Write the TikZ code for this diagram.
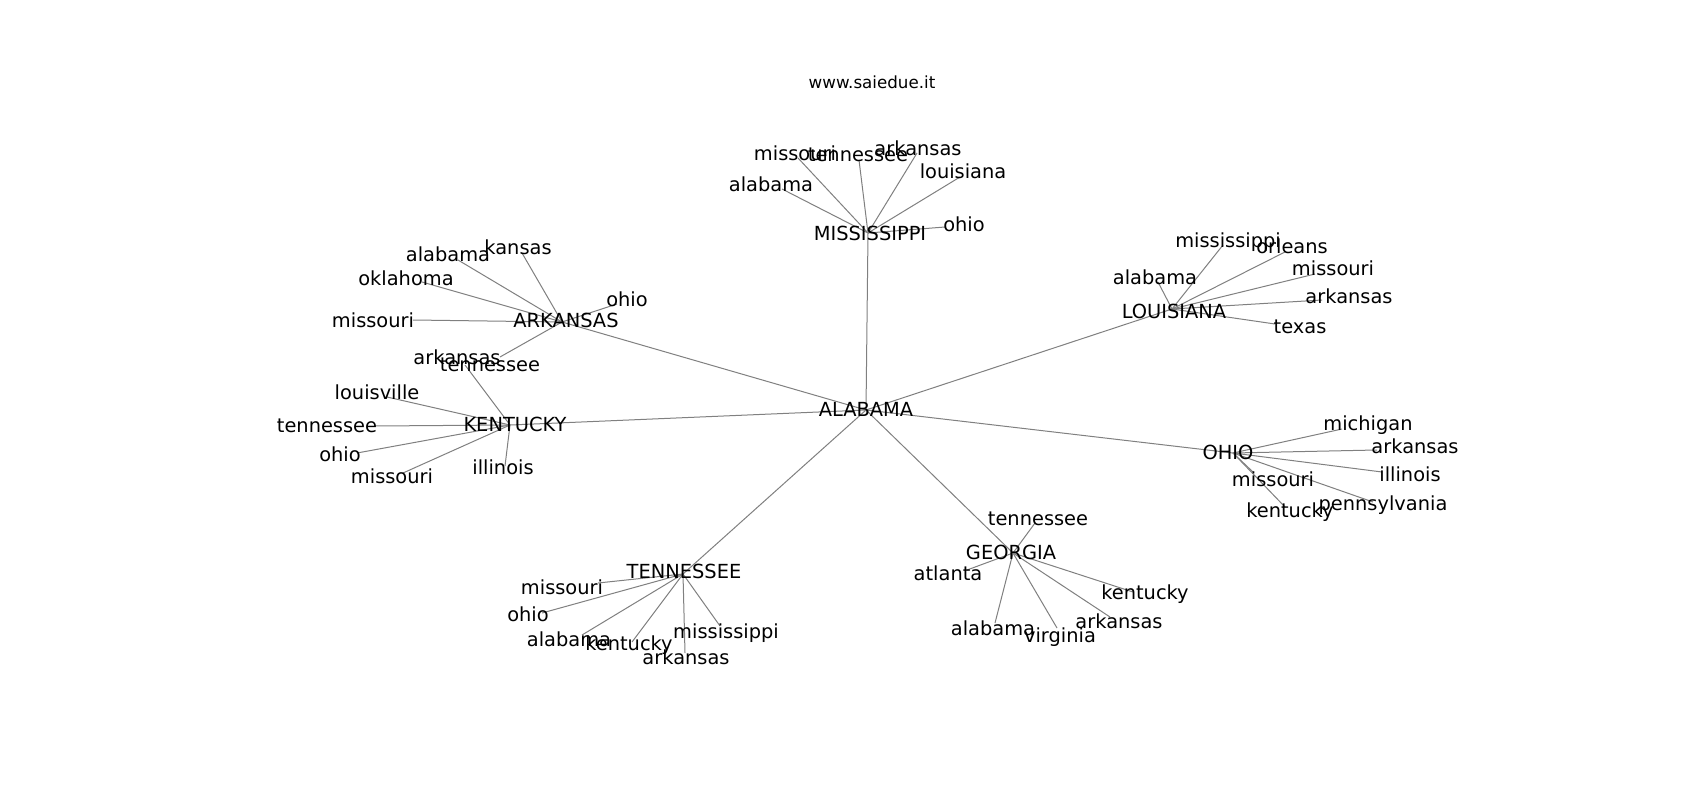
\documentclass[tikz,border=0pt]{standalone}
\usepackage{fontspec}
\setmainfont{DejaVu Sans}
\definecolor{edgegray}{RGB}{128,128,128}
\tikzset{
  edge/.style={draw=edgegray, line width=1pt},
  lab/.style={inner sep=0pt, outer sep=0pt, text height=14.3pt, text depth=0pt, anchor=center, font=\fontsize{19.4}{23}\selectfont},
  ttl/.style={inner sep=0pt, outer sep=0pt, text height=12.2pt, text depth=0pt, anchor=center, font=\fontsize{16.7}{20}\selectfont}
}
\begin{document}
\begin{tikzpicture}[x=1pt,y=-1pt]
\useasboundingbox (0,0) rectangle (1700,800);
\fill[white] (0,0) rectangle (1700,800);
\node[ttl] (title) at (872,82) {www.saiedue.it};
% hub positions
\coordinate (AL) at (866,410);
\coordinate (MS) at (868,233);
\coordinate (AR) at (562,322);
\coordinate (KY) at (510,425);
\coordinate (LA) at (1172,309);
\coordinate (OH) at (1233,453);
\coordinate (GA) at (1013,553);
\coordinate (TN) at (683,574);
% leaf positions
\coordinate (ms-al) at (782,189);
\coordinate (ms-mo) at (798,158);
\coordinate (ms-tn) at (859,160);
\coordinate (ms-ar) at (917,153);
\coordinate (ms-la) at (960,177);
\coordinate (ms-oh) at (945,227);
\coordinate (ar-al) at (458,260);
\coordinate (ar-ks) at (522,253);
\coordinate (ar-ok) at (422,282);
\coordinate (ar-oh) at (617,304);
\coordinate (ar-mo) at (413,320);
\coordinate (ar-tn) at (500,357);
\coordinate (ky-ar) at (465,365);
\coordinate (ky-lv) at (387,397);
\coordinate (ky-tn) at (375,426);
\coordinate (ky-oh) at (357,453);
\coordinate (ky-mo) at (403,473);
\coordinate (ky-il) at (505,466);
\coordinate (la-al) at (1158,282);
\coordinate (la-ms) at (1223,245);
\coordinate (la-or) at (1285,252);
\coordinate (la-mo) at (1315,274);
\coordinate (la-ar) at (1322,300);
\coordinate (la-tx) at (1275,324);
\coordinate (oh-mi) at (1342,429);
\coordinate (oh-ar) at (1377,450);
\coordinate (oh-il) at (1382,472);
\coordinate (oh-mo) at (1253,472);
\coordinate (oh-pa) at (1373,502);
\coordinate (oh-ky) at (1285,507);
\coordinate (ga-tn) at (1035,523);
\coordinate (ga-at) at (967,570);
\coordinate (ga-ky) at (1133,592);
\coordinate (ga-ar) at (1110,617);
\coordinate (ga-al) at (995,623);
\coordinate (ga-va) at (1057,628);
\coordinate (tn-mo) at (598,583);
\coordinate (tn-oh) at (542,613);
\coordinate (tn-al) at (582,635);
\coordinate (tn-ky) at (632,642);
\coordinate (tn-ms) at (720,626);
\coordinate (tn-ar) at (685,653);
% edges
\foreach \h in {MS,AR,KY,LA,OH,GA,TN} {\draw[edge] (AL) -- (\h);}
\foreach \l in {al,mo,tn,ar,la,oh} {\draw[edge] (MS) -- (ms-\l);}
\foreach \l in {al,ks,ok,oh,mo,tn} {\draw[edge] (AR) -- (ar-\l);}
\foreach \l in {ar,lv,tn,oh,mo,il} {\draw[edge] (KY) -- (ky-\l);}
\foreach \l in {al,ms,or,mo,ar,tx} {\draw[edge] (LA) -- (la-\l);}
\foreach \l in {mi,ar,il,mo,pa,ky} {\draw[edge] (OH) -- (oh-\l);}
\foreach \l in {tn,at,ky,ar,al,va} {\draw[edge] (GA) -- (ga-\l);}
\foreach \l in {mo,oh,al,ky,ms,ar} {\draw[edge] (TN) -- (tn-\l);}
% hub labels
\node[lab] (AL-t) at (866,409) {ALABAMA};
\node[lab] (MS-t) at (870,233) {MISSISSIPPI};
\node[lab] (AR-t) at (566,320) {ARKANSAS};
\node[lab] (KY-t) at (515,424) {KENTUCKY};
\node[lab] (LA-t) at (1174,311) {LOUISIANA};
\node[lab] (OH-t) at (1228,452) {OHIO};
\node[lab] (GA-t) at (1011,552) {GEORGIA};
\node[lab] (TN-t) at (684,571) {TENNESSEE};
% leaf labels
\node[lab] (ms-al-t) at (771,184) {alabama};
\node[lab] (ms-mo-t) at (795,153) {missouri};
\node[lab] (ms-tn-t) at (858,154) {tennessee};
\node[lab] (ms-ar-t) at (918,148) {arkansas};
\node[lab] (ms-la-t) at (963,171) {louisiana};
\node[lab] (ms-oh-t) at (964,224) {ohio};
\node[lab] (ar-al-t) at (448,254) {alabama};
\node[lab] (ar-ks-t) at (518,247) {kansas};
\node[lab] (ar-ok-t) at (406,278) {oklahoma};
\node[lab] (ar-oh-t) at (627,299) {ohio};
\node[lab] (ar-mo-t) at (373,320) {missouri};
\node[lab] (ar-tn-t) at (490,364) {tennessee};
\node[lab] (ky-ar-t) at (457,357) {arkansas};
\node[lab] (ky-lv-t) at (377,392) {louisville};
\node[lab] (ky-tn-t) at (327,425) {tennessee};
\node[lab] (ky-oh-t) at (340,454) {ohio};
\node[lab] (ky-mo-t) at (392,476) {missouri};
\node[lab] (ky-il-t) at (503,467) {illinois};
\node[lab] (la-al-t) at (1155,277) {alabama};
\node[lab] (la-ms-t) at (1228,240) {mississippi};
\node[lab] (la-or-t) at (1292,246) {orleans};
\node[lab] (la-mo-t) at (1333,268) {missouri};
\node[lab] (la-ar-t) at (1349,296) {arkansas};
\node[lab] (la-tx-t) at (1300,326) {texas};
\node[lab] (oh-mi-t) at (1368,423) {michigan};
\node[lab] (oh-ar-t) at (1415,446) {arkansas};
\node[lab] (oh-il-t) at (1410,474) {illinois};
\node[lab] (oh-mo-t) at (1273,479) {missouri};
\node[lab] (oh-pa-t) at (1383,503) {pennsylvania};
\node[lab] (oh-ky-t) at (1290,510) {kentucky};
\node[lab] (ga-tn-t) at (1038,518) {tennessee};
\node[lab] (ga-at-t) at (948,573) {atlanta};
\node[lab] (ga-ky-t) at (1145,592) {kentucky};
\node[lab] (ga-ar-t) at (1119,621) {arkansas};
\node[lab] (ga-al-t) at (993,628) {alabama};
\node[lab] (ga-va-t) at (1060,635) {virginia};
\node[lab] (tn-mo-t) at (562,587) {missouri};
\node[lab] (tn-oh-t) at (528,614) {ohio};
\node[lab] (tn-al-t) at (569,639) {alabama};
\node[lab] (tn-ky-t) at (629,643) {kentucky};
\node[lab] (tn-ms-t) at (726,631) {mississippi};
\node[lab] (tn-ar-t) at (686,657) {arkansas};
\end{tikzpicture}
\end{document}
